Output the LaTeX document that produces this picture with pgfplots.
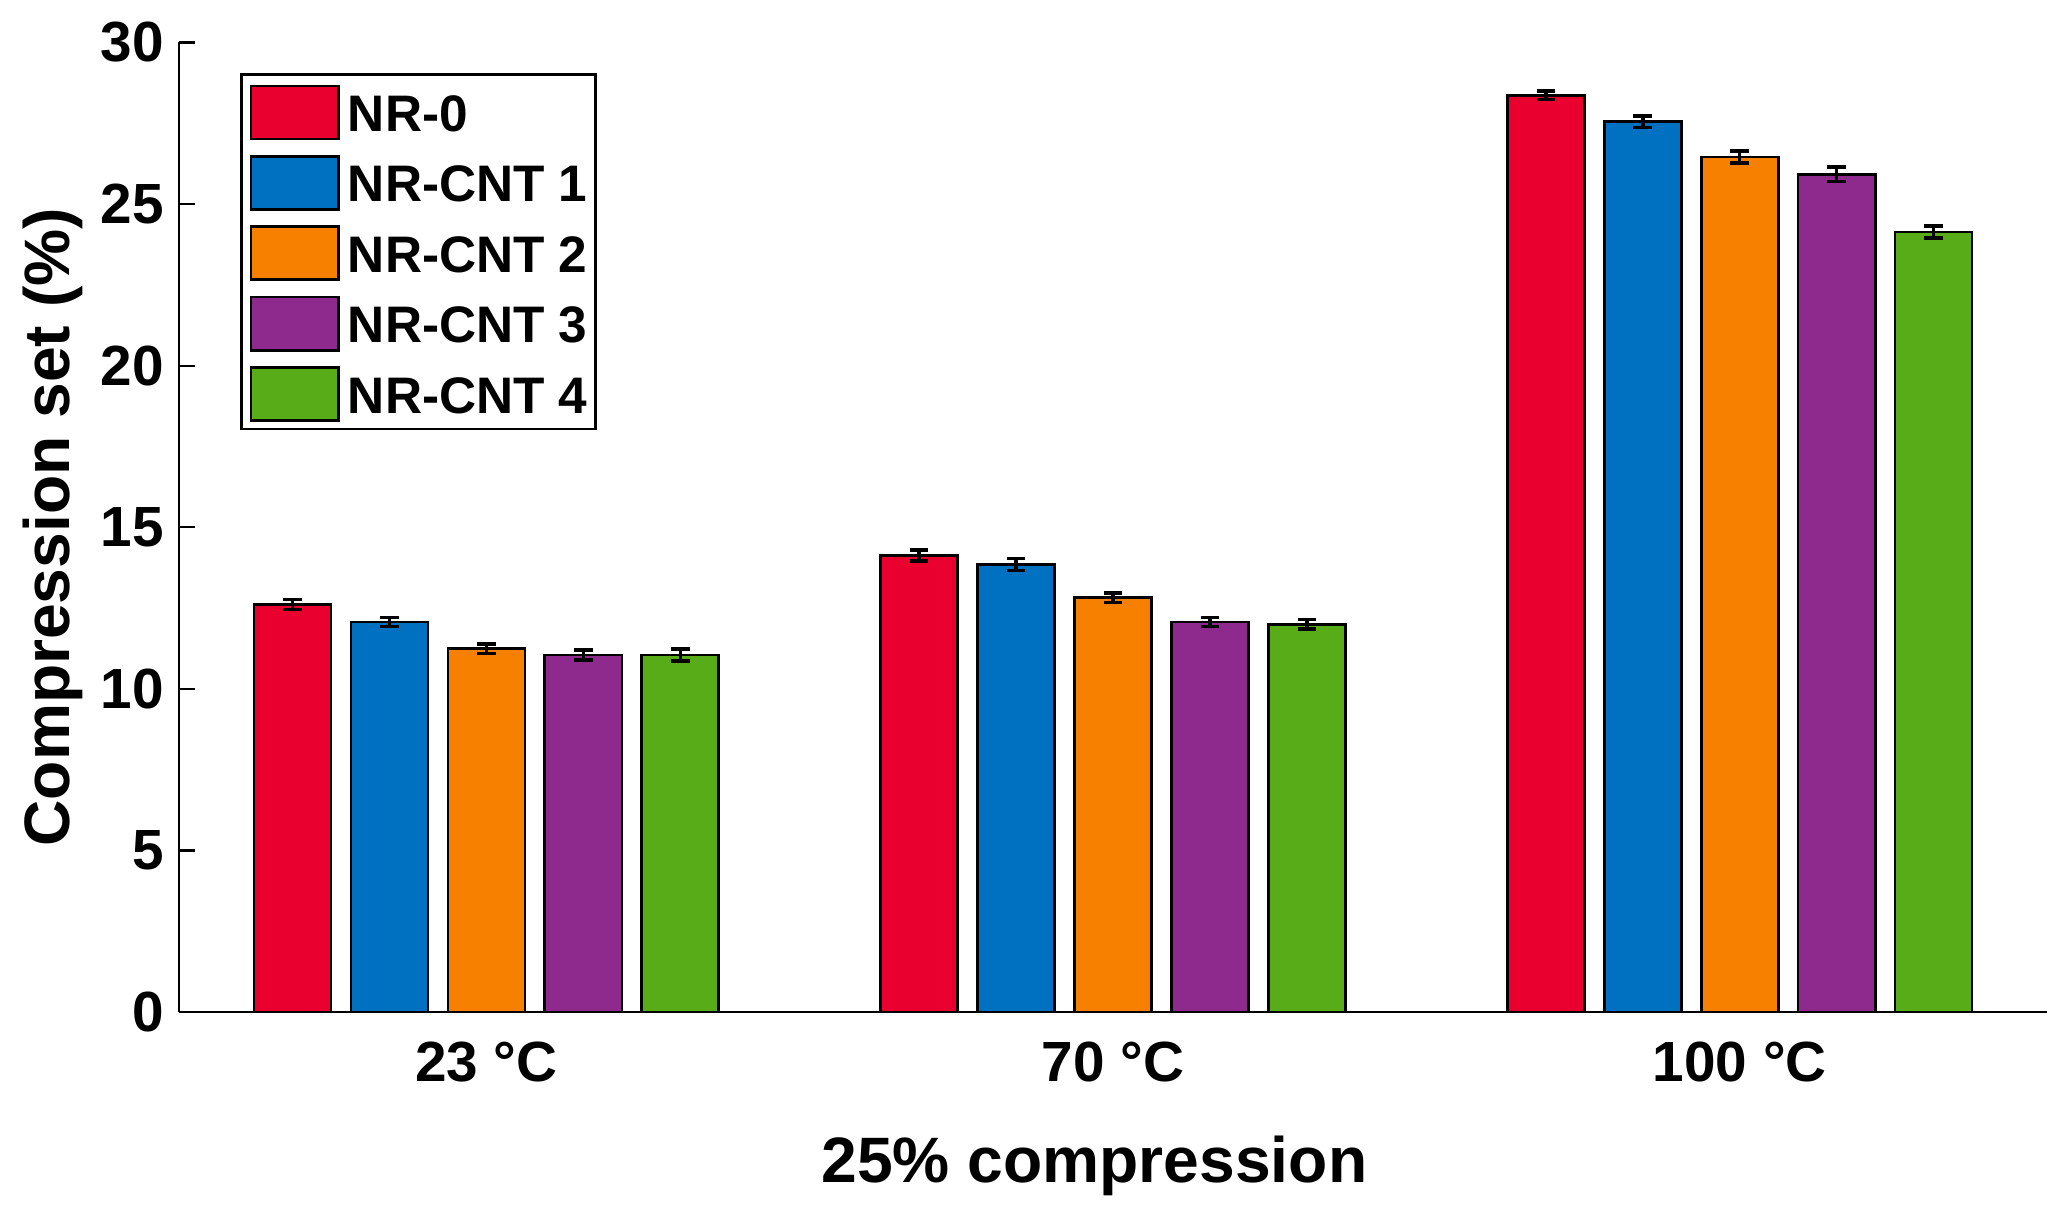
\documentclass[border=0pt]{standalone}
\usepackage{pgfplots}
\pgfplotsset{compat=1.18}
\usepackage{fontspec}
\setmainfont{Liberation Sans}
\definecolor{cred}{RGB}{234,0,46}
\definecolor{cblue}{RGB}{0,112,192}
\definecolor{corange}{RGB}{247,128,0}
\definecolor{cpurple}{RGB}{142,42,142}
\definecolor{cgreen}{RGB}{88,172,24}
\pgfplotsset{
  mylegend/.style={legend image code/.code={\draw[##1,draw=black,line width=0.6pt] (0pt,-1.7pt) rectangle (19.8pt,10.3pt);}},
  mybar/.style={fill=#1, draw=black, line width=0.6pt, mylegend,
    error bars/.cd, y dir=both, y explicit,
    error bar style={line width=0.8pt, black},
    error mark options={rotate=90, mark size=2.1pt, line width=0.8pt, black}},
}
\begin{document}
\begin{tikzpicture}
\begin{axis}[
  scale only axis, width=421.8pt, height=219pt,
  xmin=0.51, xmax=3.49, ymin=0, ymax=30,
  axis x line*=bottom, axis y line*=left,
  axis line style={line width=0.5pt, black, -},
  xtick={1,2,3}, xticklabels={23 °C, 70 °C, 100 °C},
  x tick style={draw=none},
  ytick={0,5,...,30},
  tick align=inside, major tick length=3.6pt,
  y tick style={line width=0.5pt, black},
  /pgf/number format/assume math mode=true,
  yticklabel style={font=\bfseries\fontsize{12.8}{15}\selectfont},
  xticklabel style={font=\bfseries\fontsize{12.8}{15}\selectfont, anchor=base, yshift=-12pt},
  ybar=4.5pt, bar width=17.4pt,
  ylabel={Compression set (\%)},
  ylabel style={at={(axis description cs:-0.0676,0.5)}, anchor=center, rotate=0, font=\bfseries\fontsize{14.5}{17}\selectfont},
  xlabel={25\% compression},
  xlabel style={at={(axis description cs:0.49,-0.176)}, anchor=base, font=\bfseries\fontsize{14.5}{17}\selectfont},
  legend style={at={(axis description cs:0.0327,0.9685)}, anchor=north west, draw=black, line width=0.6pt,
    inner xsep=1.8pt, inner ysep=0.3pt, column sep=1.8pt, row sep=0pt,
    font=\bfseries\fontsize{11.6}{14}\selectfont,
    nodes={inner sep=0pt, text height=12.6pt, text depth=3.3pt, anchor=base west}},
  legend cell align=left,
]
\addplot[mybar=cred] coordinates {(1,12.61) +- (0,0.15) (2,14.12) +- (0,0.17) (3,28.37) +- (0,0.13)};
\addplot[mybar=cblue] coordinates {(1,12.07) +- (0,0.14) (2,13.85) +- (0,0.18) (3,27.55) +- (0,0.18)};
\addplot[mybar=corange] coordinates {(1,11.24) +- (0,0.15) (2,12.82) +- (0,0.145) (3,26.46) +- (0,0.19)};
\addplot[mybar=cpurple] coordinates {(1,11.05) +- (0,0.15) (2,12.07) +- (0,0.14) (3,25.92) +- (0,0.22)};
\addplot[mybar=cgreen] coordinates {(1,11.05) +- (0,0.19) (2,12.00) +- (0,0.14) (3,24.14) +- (0,0.19)};
\legend{NR-0, NR-CNT 1, NR-CNT 2, NR-CNT 3, NR-CNT 4}
\end{axis}
\pgfresetboundingbox
\path ([shift={(-40.5pt,-43.8pt)}]current axis.south west) rectangle ([shift={(5.7pt,9.6pt)}]current axis.north east);
\end{tikzpicture}
\end{document}
